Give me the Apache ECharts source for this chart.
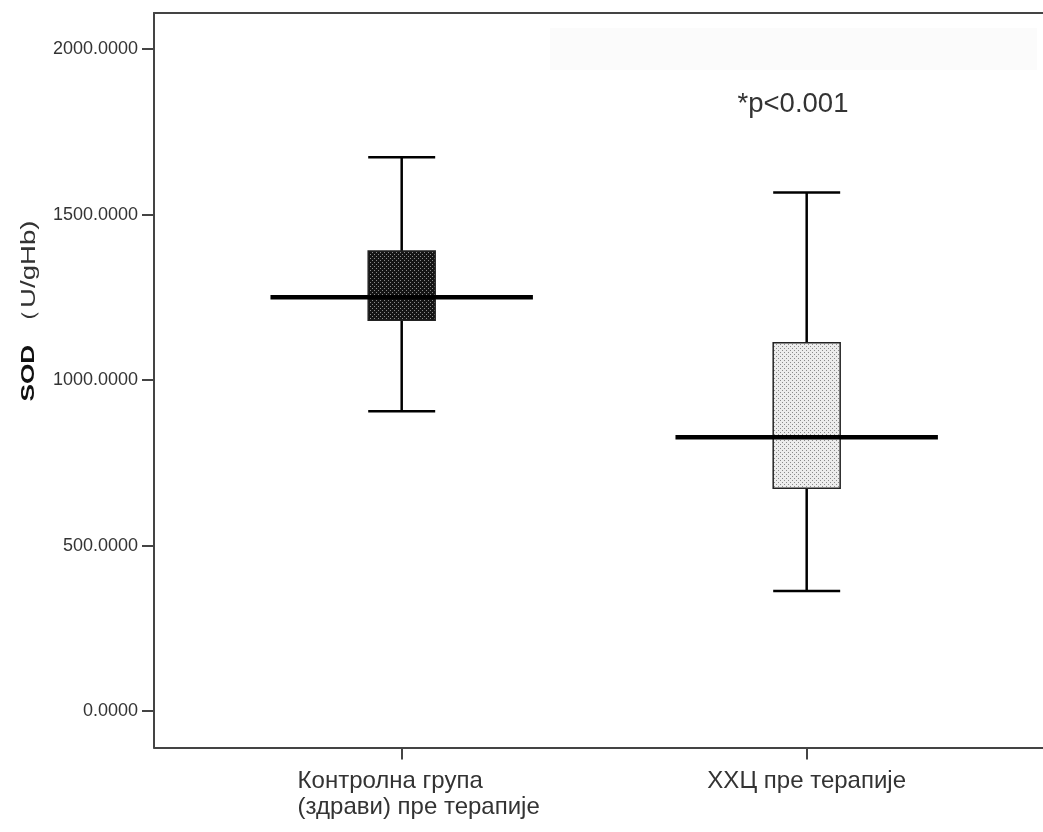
<!DOCTYPE html>
<html>
<head>
<meta charset="utf-8">
<script src="https://cdn.jsdelivr.net/npm/echarts@6/dist/echarts.min.js"></script>
<style>
html,body{margin:0;padding:0;background:#fff;}
#chart{width:1043px;height:832px;}
</style>
</head>
<body>
<div id="chart"></div>
<script>
// ---- data ----
const categories = ['Контролна група\n(здрави) пре терапије', 'ХХЦ пре терапије'];
const whiskerLow  = [906, 363];
const q1          = [1181, 673];
const median      = [1250, 827];
const q3          = [1390, 1113];
const whiskerHigh = [1673, 1567];
const yTicks = [0, 500, 1000, 1500, 2000];
const annotation = '*p<0.001';
const yTitleBold = 'SOD';
const yTitleUnit = '（U/gHb)';

const FONT = "'Liberation Sans', Arial, sans-serif";

function makePattern(bg, dot) {
  const c = document.createElement('canvas');
  c.width = 4; c.height = 4;
  const g = c.getContext('2d');
  g.fillStyle = bg; g.fillRect(0, 0, 4, 4);
  g.fillStyle = dot;
  g.fillRect(0, 0, 1, 1);
  g.fillRect(2, 2, 1, 1);
  return { image: c, repeat: 'repeat' };
}
const fills = [makePattern('#151515', '#8a8a8a'), makePattern('#ececec', '#8a8a8a')];

const boxData = categories.map((c, i) => [i + 1, whiskerLow[i], q1[i], median[i], q3[i], whiskerHigh[i]]);

const chart = echarts.init(document.getElementById('chart'), null, { renderer: 'canvas' });

const BOX_HALF = 0.0827;   // in x-axis units
const MED_HALF = 0.324;

function renderItem(params, api) {
  const x = api.value(0);
  const lo = api.value(1), a = api.value(2), m = api.value(3), b = api.value(4), hi = api.value(5);
  const pLoL = api.coord([x - BOX_HALF, lo]);
  const pLoR = api.coord([x + BOX_HALF, lo]);
  const pHiL = api.coord([x - BOX_HALF, hi]);
  const pHiR = api.coord([x + BOX_HALF, hi]);
  const pc = api.coord([x, 0]);
  const yq1 = api.coord([x, a])[1];
  const yq3 = api.coord([x, b])[1];
  const ylo = pLoL[1], yhi = pHiL[1];
  const mL = api.coord([x - MED_HALF, m]);
  const mR = api.coord([x + MED_HALF, m]);
  const lineStyle = { stroke: '#000', lineWidth: 2.5 };
  return {
    type: 'group',
    children: [
      { type: 'line', shape: { x1: pc[0], y1: yhi, x2: pc[0], y2: yq3 }, style: lineStyle },
      { type: 'line', shape: { x1: pc[0], y1: yq1, x2: pc[0], y2: ylo }, style: lineStyle },
      { type: 'line', shape: { x1: pHiL[0], y1: yhi, x2: pHiR[0], y2: yhi }, style: lineStyle },
      { type: 'line', shape: { x1: pLoL[0], y1: ylo, x2: pLoR[0], y2: ylo }, style: lineStyle },
      { type: 'rect', shape: { x: pLoL[0], y: yq3, width: pLoR[0] - pLoL[0], height: yq1 - yq3 },
        style: { fill: fills[params.dataIndex], stroke: '#222', lineWidth: 1.5 } },
      { type: 'line', shape: { x1: mL[0], y1: mL[1], x2: mR[0], y2: mR[1] }, style: { stroke: '#000', lineWidth: 4.5 } }
    ]
  };
}

const option = {
  backgroundColor: '#fff',
  animation: false,
  grid: { left: 154, right: 0, top: 13, bottom: 84.5, containLabel: false },
  xAxis: [{
    type: 'value',
    min: 0.3884, max: 2.5835,
    axisLine: { show: true, onZero: false, lineStyle: { color: '#444', width: 2 } },
    axisTick: { show: true, customValues: [1, 2], length: 12, lineStyle: { color: '#444', width: 2 } },
    axisLabel: {
      customValues: [1, 2],
      margin: 21,
      formatter: function (v) {
        const i = Math.round(v) - 1;
        const st = i === 0 ? 'a' : 'b';
        return categories[i].split('\n').map(s => '{' + st + '|' + s + '}').join('\n');
      },
      rich: {
        a: { fontFamily: FONT, fontSize: 24, color: '#333', lineHeight: 26, align: 'left', padding: [0, 0, 0, 34] },
        b: { fontFamily: FONT, fontSize: 24, color: '#333', lineHeight: 26 }
      }
    },
    splitLine: { show: false }
  }, {
    type: 'value', position: 'top',
    min: 0.3884, max: 2.5835,
    axisLine: { show: true, onZero: false, lineStyle: { color: '#444', width: 2 } },
    axisTick: { show: false }, axisLabel: { show: false }, splitLine: { show: false }
  }],
  yAxis: {
    type: 'value',
    min: -110, max: 2109,
    axisLine: { show: true, onZero: false, lineStyle: { color: '#444', width: 2 } },
    axisTick: { show: true, customValues: yTicks, length: 12, lineStyle: { color: '#444', width: 2 } },
    axisLabel: {
      customValues: yTicks,
      margin: 16,
      fontFamily: FONT, fontSize: 18, color: '#333',
      formatter: v => Number(v).toFixed(4)
    },
    splitLine: { show: false }
  },
  graphic: [
    { type: 'rect', shape: { x: 550, y: 28, width: 487, height: 42 }, style: { fill: '#fbfbfb' }, silent: true, z: -1 },
    { type: 'text', x: 793, y: 104,
      style: { text: annotation, fontFamily: FONT, fontSize: 27.5, fill: '#333', align: 'center', verticalAlign: 'middle' } },
    { type: 'text', x: 29, y: 311, rotation: Math.PI / 2, scaleX: 1.38,
      style: {
        text: '{b|' + yTitleBold + '}  {n|' + yTitleUnit + '}',
        align: 'center', verticalAlign: 'middle',
        rich: {
          b: { fontFamily: FONT, fontSize: 19, fontWeight: 'bold', fill: '#111' },
          n: { fontFamily: FONT, fontSize: 20, fill: '#333' }
        }
      } }
  ],
  series: [{
    type: 'custom',
    renderItem: renderItem,
    encode: { x: 0, y: [1, 2, 3, 4, 5] },
    data: boxData,
    clip: false
  }]
};
chart.setOption(option);
</script>
</body>
</html>
